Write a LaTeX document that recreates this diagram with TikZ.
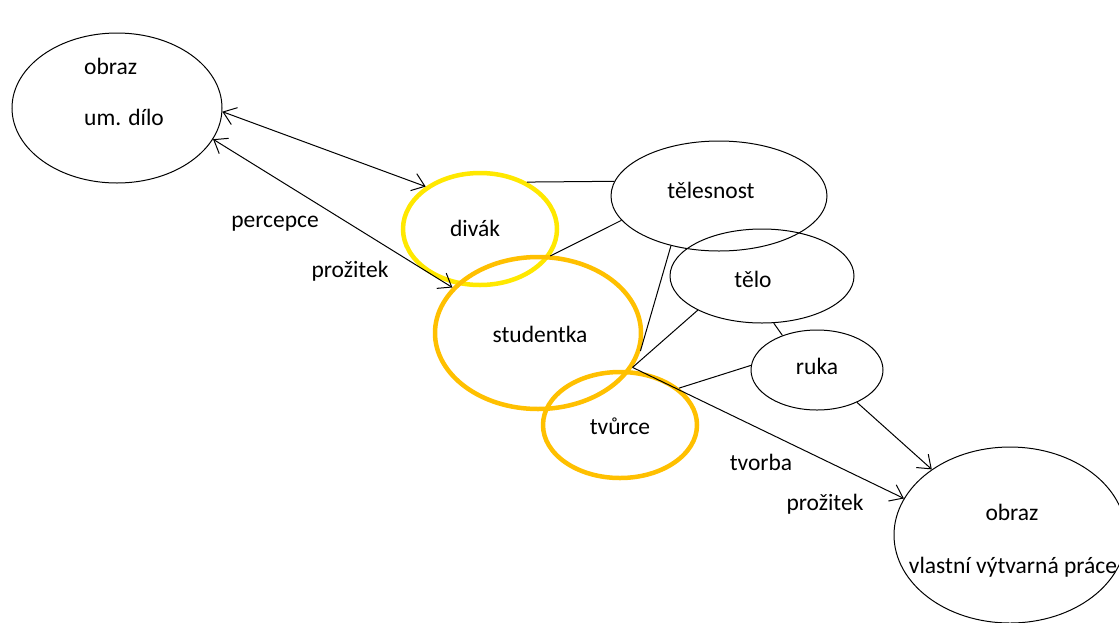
\documentclass[tikz,border=0pt]{standalone}
\usepackage{fontspec}
\setmainfont{Carlito}
\usetikzlibrary{shapes.geometric,arrows.meta}
\definecolor{divakyellow}{HTML}{FFE800}
\definecolor{studgold}{HTML}{FFC000}
\begin{document}
\begin{tikzpicture}[x=1pt,y=-1pt,
  oval/.style={draw=black, line width=1pt, ellipse, inner sep=0pt},
  hl/.style={draw=#1, line width=4.5pt, ellipse, inner sep=0pt},
  lbl/.style={font=\fontsize{23.5}{28}\selectfont, text=black, inner sep=0pt, anchor=base},
  link/.style={line width=1pt},
  arr/.style={line width=1pt, -{Straight Barb[length=12pt,width=18pt,line width=1pt]}},
  dbl/.style={line width=1pt, {Straight Barb[length=12pt,width=18pt,line width=1pt]}-{Straight Barb[length=12pt,width=18pt,line width=1pt]}}]

% canvas
\fill[white] (0,0) rectangle (1119,622);
\useasboundingbox (0,0) rectangle (1119,622);

% plain ovals
\node[oval, minimum width=210pt, minimum height=150pt] (obrazA) at (117,108) {};
\node[oval, minimum width=216pt, minimum height=110pt] (telesnost) at (719,196) {};
\node[oval, minimum width=184pt, minimum height=94pt] (telo) at (762,276) {};
\node[oval, minimum width=132pt, minimum height=80pt] (ruka) at (817,370) {};
\node[oval, minimum width=232pt, minimum height=176pt] (obrazB) at (1010,535) {};

% highlighted ovals
\node[hl=divakyellow, minimum width=154pt, minimum height=112pt] (divak) at (480,229) {};
\node[hl=studgold, minimum width=206pt, minimum height=152pt] (stud) at (538,333) {};
\node[hl=studgold, minimum width=154pt, minimum height=106pt] (tvurce) at (620,425) {};

% connectors
\draw[dbl] (obrazA.-2.7) -- (divak.142.8);
\draw[dbl] (obrazA.-18.4) -- (stud.152.4);
\draw[link] (divak.45.6) -- (telesnost.172);
\draw[link] (divak.-21) -- (telesnost.194.2);
\draw[link] (stud.-10.3) -- (telesnost.226);
\draw[link] (stud.-20) -- (telo.208.2);
\draw[link] (telo.-76.8) -- (ruka.135);
\draw[link] (ruka.176.5) -- (tvurce.32.3);
\draw[arr] (stud.-20) -- (obrazB.161.6);
\draw[arr] (ruka.-39.5) -- (obrazB.140.2);

% texts
\node[lbl, anchor=base west] (tObrazA) at (84,74) {obraz};
\node[lbl, anchor=base west] (tDilo) at (84,125) {um. dílo};
\node[lbl] (tDivak) at (475,236) {divák};
\node[lbl] (tStud) at (540,342) {studentka};
\node[lbl] (tTvurce) at (620,434) {tvůrce};
\node[lbl] (tTelesnost) at (711,198) {tělesnost};
\node[lbl] (tTelo) at (753,287) {tělo};
\node[lbl] (tRuka) at (817,374) {ruka};
\node[lbl] (tObrazB) at (1012,520) {obraz};
\node[lbl] (tPrace) at (1013,573) {vlastní výtvarná práce};
\node[lbl] (tPercepce) at (275,227) {percepce};
\node[lbl] (tProzitekA) at (350,277) {prožitek};
\node[lbl] (tTvorba) at (761,470) {tvorba};
\node[lbl] (tProzitekB) at (825,510) {prožitek};
\end{tikzpicture}
\end{document}
